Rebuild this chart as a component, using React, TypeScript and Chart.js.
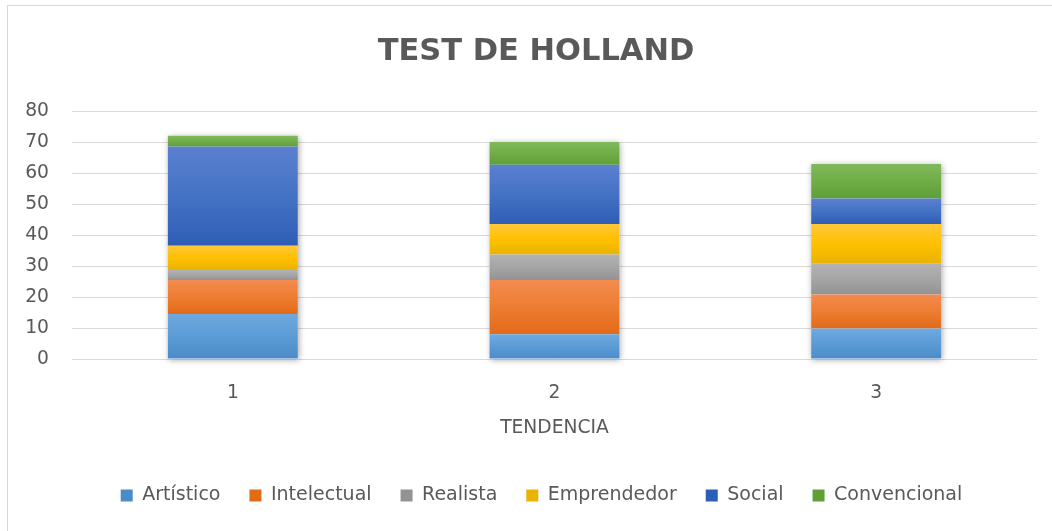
import React, { useEffect, useRef } from 'react';
import { Chart, registerables } from 'chart.js';

Chart.register(...registerables);

// ---- data ----
const categories = ['1', '2', '3'];
const seriesNames = ['Artístico', 'Intelectual', 'Realista', 'Emprendedor', 'Social', 'Convencional'];
const artistico = [14.6, 8.0, 9.9];
const intelectual = [11.0, 17.6, 11.0];
const realista = [3.2, 8.2, 9.9];
const emprendedor = [7.8, 9.9, 12.9];
const social = [32.1, 19.1, 8.2];
const convencional = [3.5, 7.4, 11.2];
const yTickValues = [0, 10, 20, 30, 40, 50, 60, 70, 80];

const seriesValues = [artistico, intelectual, realista, emprendedor, social, convencional];

// [top, middle, bottom] gradient colours per series
const palette = [
  ['#6fa9e0', '#5b9bd5', '#4a8bc9'],
  ['#f38c51', '#ed7d31', '#e36a19'],
  ['#b3b3b3', '#a5a5a5', '#939393'],
  ['#ffc83a', '#ffc000', '#eab300'],
  ['#5b80cf', '#4472c4', '#2e5db6'],
  ['#80b95b', '#70ad47', '#5e9f38'],
];

const FONT = "'DejaVu Sans', sans-serif";
const TEXT = '#595959';

function makeBg(di: number) {
  return (c: any) => {
    const [t, m, b] = palette[di];
    if (c.type !== 'data') return m;
    const chart = c.chart;
    const ys = chart.scales && chart.scales.y;
    if (!ys || !chart.chartArea) return m;
    const i = c.dataIndex;
    let base = 0;
    for (let k = 0; k < di; k++) base += seriesValues[k][i];
    const top = base + seriesValues[di][i];
    const y0 = ys.getPixelForValue(base);
    const y1 = ys.getPixelForValue(top);
    if (!isFinite(y0) || !isFinite(y1) || y0 === y1) return m;
    const g = chart.ctx.createLinearGradient(0, y1, 0, y0);
    g.addColorStop(0, t);
    g.addColorStop(0.5, m);
    g.addColorStop(1, b);
    return g;
  };
}

const shadowPlugin = {
  id: 'stackShadow',
  afterLayout(chart: any) {
    if (chart.legend) {
      chart.legend.left += 5.5;
      chart.legend.right += 5.5;
    }
  },
  beforeDatasetsDraw(chart: any) {
    const ctx = chart.ctx;
    const ys = chart.scales.y;
    const meta0 = chart.getDatasetMeta(0);
    ctx.save();
    meta0.data.forEach((bar: any, i: number) => {
      const total = seriesValues.reduce((s, arr) => s + arr[i], 0);
      const { x, width } = bar.getProps(['x', 'width'], true);
      const yTop = ys.getPixelForValue(total);
      const yBot = ys.getPixelForValue(0);
      ctx.shadowColor = 'rgba(0,0,0,0.35)';
      ctx.shadowBlur = 6;
      ctx.shadowOffsetX = 1;
      ctx.shadowOffsetY = 1;
      ctx.fillStyle = '#ffffff';
      ctx.fillRect(x - width / 2, yTop, width, yBot - yTop);
    });
    ctx.restore();
  },
};

export default function App() {
  const ref = useRef<HTMLCanvasElement | null>(null);

  useEffect(() => {
    if (!ref.current) return;
    const chart = new Chart(ref.current, {
      type: 'bar',
      data: {
        labels: categories,
        datasets: seriesNames.map((name, di) => ({
          label: name,
          data: seriesValues[di],
          backgroundColor: makeBg(di),
          borderWidth: 0,
          barPercentage: 0.404,
          categoryPercentage: 1,
        })),
      },
      plugins: [shadowPlugin],
      options: {
        responsive: false,
        animation: false,
        layout: { padding: { left: 0, right: 0, top: 0, bottom: 21 } },
        plugins: {
          title: {
            display: true,
            text: 'TEST DE HOLLAND',
            color: TEXT,
            font: { family: FONT, size: 30.5, weight: 'bold' },
            padding: { top: 28, bottom: 41 },
          },
          legend: {
            display: true,
            position: 'bottom',
            labels: {
              color: TEXT,
              font: { family: FONT, size: 19 },
              boxWidth: 12,
              boxHeight: 12,
              padding: 29,
            },
          },
          tooltip: { enabled: false },
        },
        scales: {
          x: {
            stacked: true,
            grid: { display: false, drawTicks: false },
            border: { display: false },
            ticks: { color: TEXT, font: { family: FONT, size: 18.7 }, padding: 23 },
            title: {
              display: true,
              text: 'TENDENCIA',
              color: TEXT,
              font: { family: FONT, size: 18.7 },
              padding: { top: 0, bottom: 17.7 },
            },
            afterFit: (s: any) => {
              s.height = 97.9;
            },
          },
          y: {
            stacked: true,
            min: 0,
            max: 80,
            afterBuildTicks: (s: any) => {
              s.ticks = yTickValues.map((v) => ({ value: v }));
            },
            afterFit: (s: any) => {
              s.width = 64;
            },
            grid: { color: '#d9d9d9', lineWidth: 1, drawTicks: false },
            border: { display: false },
            ticks: { color: TEXT, font: { family: FONT, size: 18.7 }, padding: 23 },
          },
          yRight: {
            position: 'right',
            display: true,
            grid: { display: false, drawTicks: false },
            border: { display: false },
            ticks: { display: false },
            afterFit: (s: any) => {
              s.width = 27;
            },
          },
        },
      },
    } as any);
    return () => chart.destroy();
  }, []);

  return (
    <div style={{ position: 'fixed', left: 0, top: 0, width: 1052, height: 531, overflow: 'hidden', background: '#fff' }}>
      <div
        style={{
          position: 'absolute',
          left: 7,
          top: 5,
          width: 1056,
          height: 540,
          border: '1px solid #d9d9d9',
          background: '#fff',
        }}
      >
        <canvas ref={ref} width={1056} height={530} style={{ display: 'block', width: 1056, height: 530 }} />
      </div>
    </div>
  );
}
